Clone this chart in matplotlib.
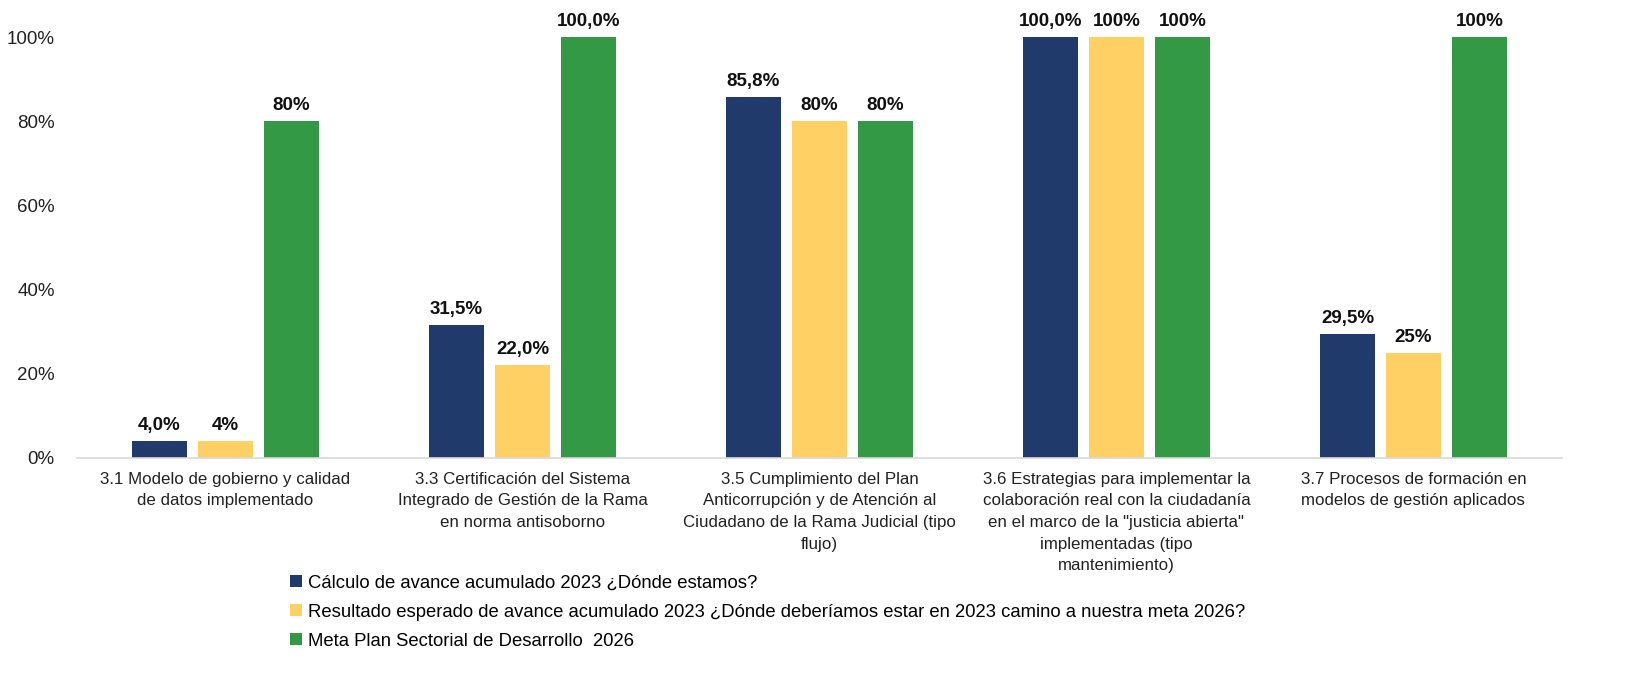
import numpy as np
import matplotlib
matplotlib.use("Agg")
import matplotlib.pyplot as plt
from matplotlib.ticker import PercentFormatter

plt.rcParams["font.family"] = ["Liberation Sans", "DejaVu Sans"]

categories = [
    "3.1 Modelo de gobierno y calidad\nde datos implementado",
    "3.3 Certificación del Sistema\nIntegrado de Gestión de la Rama\nen norma antisoborno",
    "3.5 Cumplimiento del Plan\nAnticorrupción y de Atención al\nCiudadano de la Rama Judicial (tipo\nflujo)",
    "3.6 Estrategias para implementar la\ncolaboración real con la ciudadanía\nen el marco de la \"justicia abierta\"\nimplementadas (tipo\nmantenimiento)",
    "3.7 Procesos de formación en\nmodelos de gestión aplicados",
]

series_names = [
    "Cálculo de avance acumulado 2023 ¿Dónde estamos?",
    "Resultado esperado de avance acumulado 2023 ¿Dónde deberíamos estar en 2023 camino a nuestra meta 2026?",
    "Meta Plan Sectorial de Desarrollo  2026",
]

avance = [4.0, 31.5, 85.8, 100.0, 29.5]
esperado = [4.0, 22.0, 80.0, 100.0, 25.0]
meta = [80.0, 100.0, 80.0, 100.0, 100.0]

avance_labels = ["4,0%", "31,5%", "85,8%", "100,0%", "29,5%"]
esperado_labels = ["4%", "22,0%", "80%", "100%", "25%"]
meta_labels = ["80%", "100,0%", "80%", "100%", "100%"]

colors = ["#1F3A6B", "#FFD064", "#339945"]

fig = plt.figure(figsize=(16.27, 6.73), dpi=100)
ax = fig.add_axes([0.0473, 0.3195, 0.9127, 0.6255])

x = np.arange(len(categories))
width = 0.185
step = 0.222

all_vals = [avance, esperado, meta]
all_labels = [avance_labels, esperado_labels, meta_labels]
handles = []
for i, (vals, labs) in enumerate(zip(all_vals, all_labels)):
    pos = x + (i - 1) * step
    bars = ax.bar(pos, vals, width, color=colors[i], label=series_names[i])
    handles.append(bars)
    for p, v, t in zip(pos, vals, labs):
        ax.annotate(t, (p, v), xytext=(0, 5), textcoords="offset points",
                    ha="center", va="bottom", fontsize=13.5, fontweight="bold",
                    color="#111111")

ax.set_xlim(-0.5, len(categories) - 0.5)
ax.set_ylim(0, 100)
ax.set_yticks([0, 20, 40, 60, 80, 100])
ax.yaxis.set_major_formatter(PercentFormatter(decimals=0))
ax.set_xticks(x)
ax.set_xticklabels(categories, fontsize=12.2, linespacing=1.55)

for s in ["top", "right", "left"]:
    ax.spines[s].set_visible(False)
ax.spines["bottom"].set_color("#D9D9D9")
ax.spines["bottom"].set_linewidth(1.2)
ax.tick_params(axis="both", length=0, colors="#222222")
ax.tick_params(axis="y", labelsize=13.5, pad=16)
ax.tick_params(axis="x", pad=10)

fig.legend(handles=handles, labels=series_names, loc="upper left",
           bbox_to_anchor=(0.174, 0.157), fontsize=13.3, frameon=False,
           handlelength=0.6, handleheight=0.6, handletextpad=0.35,
           labelspacing=0.65, borderaxespad=0)

fig.savefig("out.png", dpi=100)
